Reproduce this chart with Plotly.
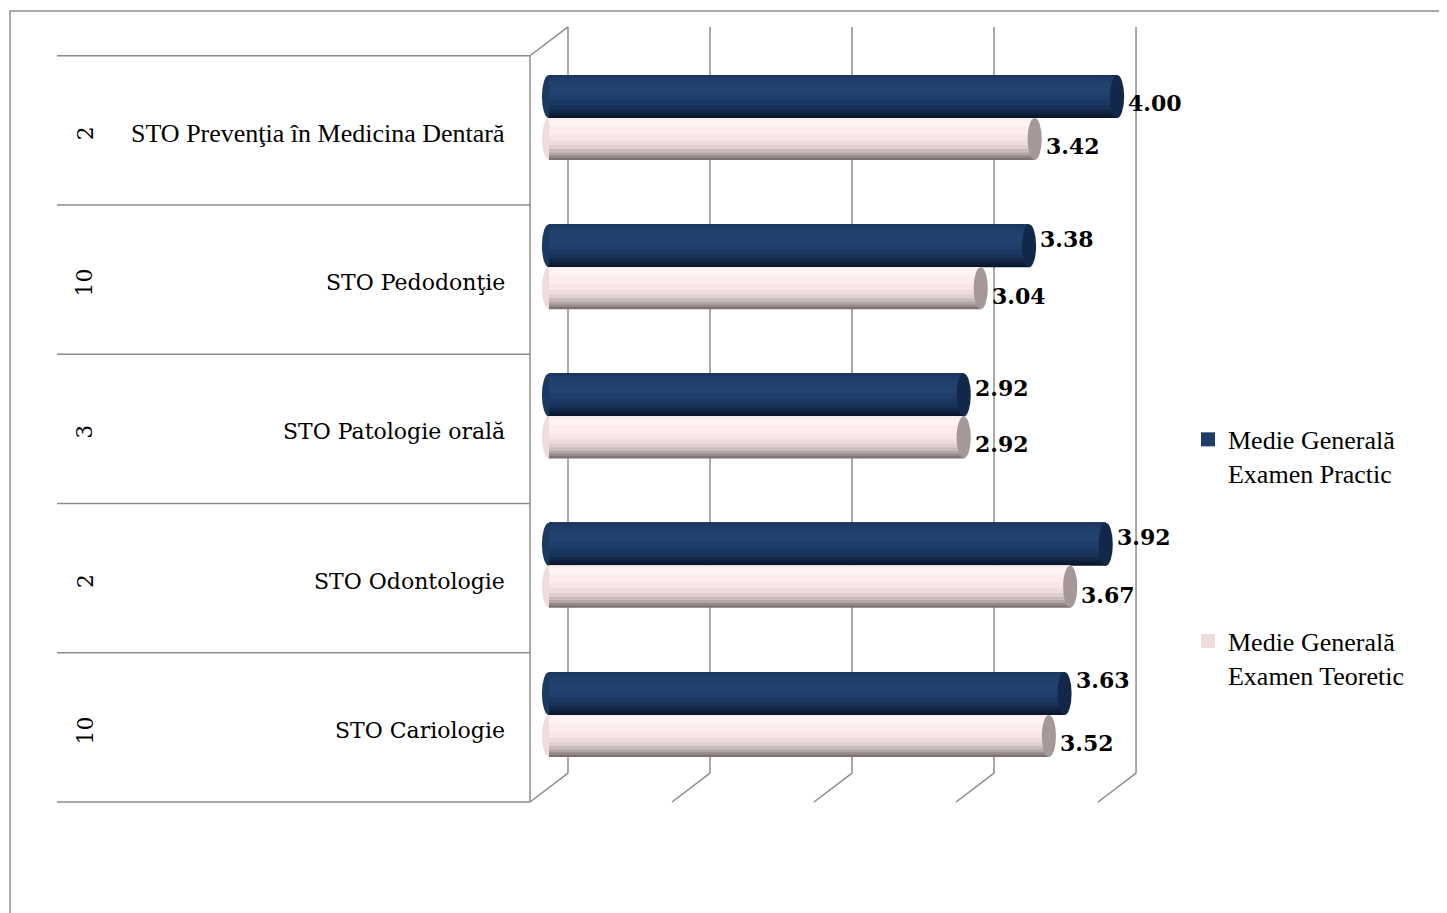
import plotly.graph_objects as go

# ---------------- data ----------------
categories = ["STO Prevenţia în Medicina Dentară", "STO Pedodonţie", "STO Patologie orală",
              "STO Odontologie", "STO Cariologie"]
group_counts = ["2", "10", "3", "2", "10"]
practic = [4.00, 3.38, 2.92, 3.92, 3.63]
teoretic = [3.42, 3.04, 2.92, 3.67, 3.52]
series_names = ["Medie Generală<br>Examen Practic", "Medie Generală<br>Examen Teoretic"]

# ---------------- styling ----------------
n = len(categories)
ypos = [n - 1 - i for i in range(n)]          # top category drawn highest
H_DARK = 0.288
H_PINK = 0.281
CAP_W = 0.05                                   # half-width of cylinder end cap (x units)
FRONT_DX, BACK_DX = -0.1338, 0.1338
FRONT_DY, BACK_DY = -0.083, 0.11
GRID_COL = "#8c8c8c"
SERIF_TNR = "Liberation Serif, Times New Roman, serif"
SERIF_CAM = "DejaVu Serif, serif"
label_fonts = [SERIF_TNR, SERIF_CAM, SERIF_CAM, SERIF_CAM, SERIF_CAM]
label_sizes = [26, 22, 22, 22, 22]
practic_label_dy = [-7, 7, 7, 7, 14]   # pixel shifts of data labels (Excel placement)
teoretic_label_dy = [-7, -8, -7, -8, -7]

# nested shading bands (start fraction from bottom of cylinder, colour); each covers to the top
DARK_BANDS = [(0.00, "#0a1629"), (0.05, "#0e1e38"), (0.12, "#132848"), (0.20, "#173157"),
              (0.30, "#1b3862"), (0.42, "#1f3e6b"), (0.55, "#22436f"), (0.70, "#21416d"),
              (0.85, "#1e3c67"), (0.95, "#1b375f")]
PINK_BANDS = [(0.00, "#7d7171"), (0.05, "#978a8a"), (0.11, "#b3a5a5"), (0.18, "#cbbcbc"),
              (0.26, "#dfcfcf"), (0.35, "#eddcdc"), (0.46, "#f7e6e6"), (0.60, "#fcecec"),
              (0.80, "#fff3f3"), (0.94, "#fbeeee")]

fig = go.Figure()

for f0, col in DARK_BANDS:
    fig.add_trace(go.Bar(x=practic, y=ypos, orientation="h", base=0,
                         offset=f0 * H_DARK, width=(1 - f0) * H_DARK,
                         marker=dict(color=col, line=dict(width=0)),
                         showlegend=False, hoverinfo="skip"))
for f0, col in PINK_BANDS:
    fig.add_trace(go.Bar(x=teoretic, y=ypos, orientation="h", base=0,
                         offset=-H_PINK + f0 * H_PINK, width=(1 - f0) * H_PINK,
                         marker=dict(color=col, line=dict(width=0)),
                         showlegend=False, hoverinfo="skip"))

# legend entries
fig.add_trace(go.Scatter(x=[None], y=[None], mode="markers", name=series_names[0],
                         marker=dict(symbol="square", size=14, color="#1f3d6b"),
                         legendgroup="a"))
fig.add_trace(go.Scatter(x=[None], y=[None], mode="markers", name=series_names[1],
                         marker=dict(symbol="square", size=14, color="#f2dcdb"),
                         legendgroup="b"))

shapes = []
for k in range(0, 5):
    shapes.append(dict(type="line", xref="x", yref="y", x0=k + BACK_DX, x1=k + BACK_DX,
                       y0=-0.5 + BACK_DY, y1=n - 0.5 + BACK_DY,
                       line=dict(color=GRID_COL, width=1.5), layer="below"))
    shapes.append(dict(type="line", xref="x", yref="y", x0=k + FRONT_DX, x1=k + BACK_DX,
                       y0=-0.5 + FRONT_DY, y1=-0.5 + BACK_DY,
                       line=dict(color=GRID_COL, width=1.5), layer="below"))
shapes.append(dict(type="line", xref="x", yref="y", x0=FRONT_DX, x1=FRONT_DX,
                   y0=-0.5 + FRONT_DY, y1=n - 0.5 + FRONT_DY,
                   line=dict(color=GRID_COL, width=1.5), layer="below"))
shapes.append(dict(type="line", xref="x", yref="y", x0=FRONT_DX, x1=BACK_DX,
                   y0=n - 0.5 + FRONT_DY, y1=n - 0.5 + BACK_DY,
                   line=dict(color=GRID_COL, width=1.5), layer="below"))
for i in range(n + 1):
    shapes.append(dict(type="line", xref="paper", yref="y", x0=-0.7349, x1=0.0159,
                       y0=i - 0.5 + FRONT_DY, y1=i - 0.5 + FRONT_DY,
                       line=dict(color=GRID_COL, width=1.5), layer="below"))

for v, y in zip(practic, ypos):
    shapes.append(dict(type="circle", xref="x", yref="y", x0=-CAP_W, x1=CAP_W,
                       y0=y, y1=y + H_DARK, fillcolor="#1c3961", line=dict(width=0),
                       layer="below"))
    shapes.append(dict(type="circle", xref="x", yref="y", x0=v - CAP_W, x1=v + CAP_W,
                       y0=y, y1=y + H_DARK, fillcolor="#12284a", line=dict(width=0),
                       layer="above"))
for v, y in zip(teoretic, ypos):
    shapes.append(dict(type="circle", xref="x", yref="y", x0=-CAP_W, x1=CAP_W,
                       y0=y - H_PINK, y1=y, fillcolor="#efdcdc", line=dict(width=0),
                       layer="below"))
    shapes.append(dict(type="circle", xref="x", yref="y", x0=v - CAP_W, x1=v + CAP_W,
                       y0=y - H_PINK, y1=y, fillcolor="#a69898", line=dict(width=0),
                       layer="above"))

shapes.append(dict(type="rect", xref="paper", yref="paper", x0=-0.8095, x1=1.508,
                   y0=-0.178, y1=1.0178, line=dict(color=GRID_COL, width=1.5),
                   fillcolor="rgba(0,0,0,0)", layer="below"))

annotations = []
for i, y in enumerate(ypos):
    annotations.append(dict(x=-0.0206, xref="paper", y=y + FRONT_DY, yref="y",
                            yshift=-3, text=categories[i], showarrow=False, xanchor="right",
                            yanchor="middle",
                            font=dict(family=label_fonts[i], size=label_sizes[i], color="black")))
    annotations.append(dict(x=-0.6905, xref="paper", y=y + FRONT_DY, yref="y", yshift=-3,
                            text=group_counts[i], showarrow=False, textangle=-90,
                            xanchor="center", yanchor="middle",
                            font=dict(family=SERIF_CAM, size=22, color="black")))
    annotations.append(dict(x=practic[i], xref="x", y=y + H_DARK / 2, yref="y",
                            xshift=9, yshift=practic_label_dy[i],
                            text=f"<b>{practic[i]:.2f}</b>", showarrow=False,
                            xanchor="left", yanchor="middle",
                            font=dict(family=SERIF_CAM, size=22, color="black")))
    annotations.append(dict(x=teoretic[i], xref="x", y=y - H_PINK / 2, yref="y",
                            xshift=9, yshift=teoretic_label_dy[i],
                            text=f"<b>{teoretic[i]:.2f}</b>", showarrow=False,
                            xanchor="left", yanchor="middle",
                            font=dict(family=SERIF_CAM, size=22, color="black")))

fig.update_layout(
    width=1439, height=905,
    margin=dict(l=512, r=297, t=17, b=103),
    paper_bgcolor="white", plot_bgcolor="rgba(0,0,0,0)",
    barmode="overlay",
    showlegend=True,
    legend=dict(x=1.0603, y=0.502, xanchor="left", yanchor="top",
                font=dict(family=SERIF_TNR, size=26, color="black"),
                tracegroupgap=131, valign="top", bgcolor="rgba(0,0,0,0)"),
    xaxis=dict(range=[-0.2042, 4.232], showgrid=False, zeroline=False,
               showticklabels=False, showline=False, fixedrange=True),
    yaxis=dict(range=[-0.6365, 4.623], showgrid=False, zeroline=False,
               showticklabels=False, showline=False, fixedrange=True),
    shapes=shapes,
    annotations=annotations,
)

fig.write_html("out.html")
